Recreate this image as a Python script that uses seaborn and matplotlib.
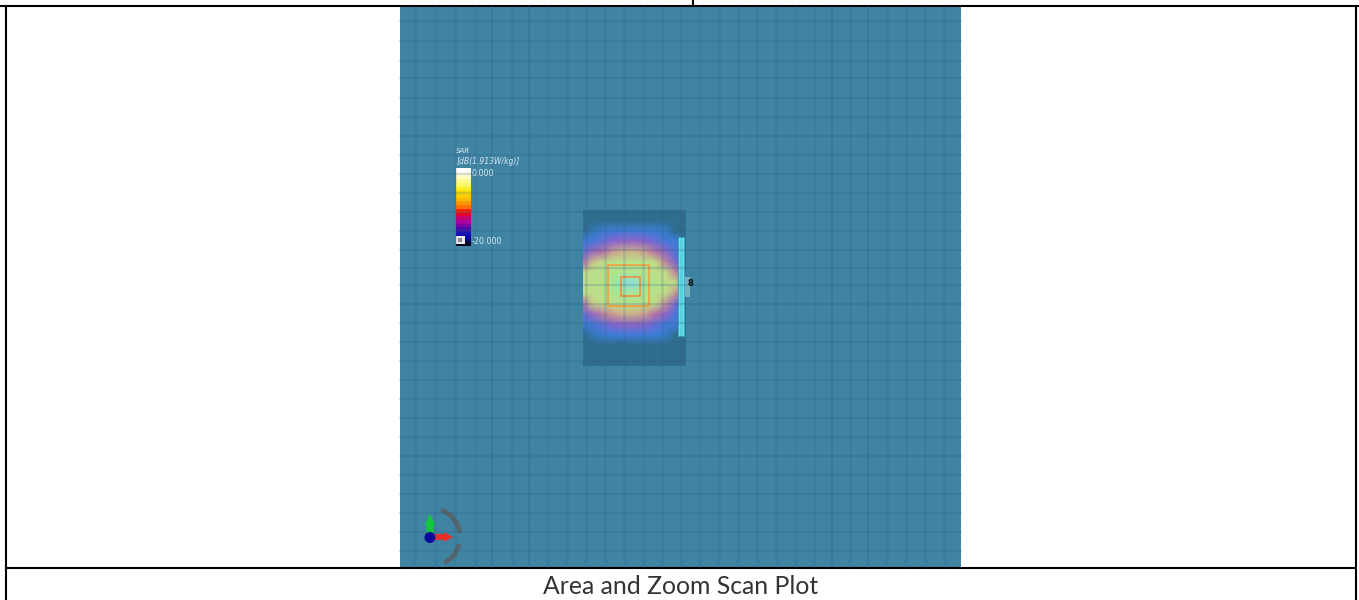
import matplotlib
matplotlib.use('Agg')
import matplotlib.pyplot as plt
from matplotlib.colors import LinearSegmentedColormap, ListedColormap
from matplotlib.patches import Arc, Circle, FancyArrow, Rectangle
import pandas as pd
import seaborn as sns

W, H = 1359, 600

caption = 'Area and Zoom Scan Plot'
bar_title = 'SAR'
bar_unit = '[dB(1.913W/kg)]'
bar_top_label = '0.000'
bar_bottom_label = '-20.000'

# measured SAR in dB, rows top to bottom, columns left to right
sar_x = [583, 593, 604, 614, 624, 635, 645, 655, 665, 676, 686]
sar_y = [210, 220, 231, 241, 252, 262, 272, 283, 293, 304, 314, 324, 335, 345, 356, 366]
sar_rows = [
    [-24, -24, -24, -24, -24, -24, -24, -24, -24, -24, -24],
    [-24, -24, -24, -24, -24, -24, -24, -24, -24, -24, -24],
    [-22, -19.5, -18, -17.5, -17, -17, -17.5, -18, -19, -21, -24],
    [-17.5, -16, -14.5, -13.5, -13, -13, -13.5, -14.5, -16, -17.5, -24],
    [-14.5, -12.5, -11, -9.5, -9, -9, -9.5, -11, -13, -15.5, -24],
    [-11.5, -8.5, -6.5, -5.5, -5, -5, -5.5, -7, -10.5, -14, -24],
    [-7.5, -5.5, -4.5, -4, -3.5, -3.5, -4, -5, -7, -10.5, -24],
    [-6, -5, -4, -2.5, -0.5, -0.5, -2.5, -4, -5.5, -6.5, -16],
    [-7, -5.5, -4.5, -3.5, -2.5, -2.5, -3.5, -5, -6.5, -10, -24],
    [-11, -8, -6, -5, -4.5, -4.5, -5, -6.5, -10, -14, -24],
    [-14.5, -12.5, -10.5, -9.5, -9, -9, -9.5, -11, -13, -15.5, -24],
    [-17.5, -16, -14.5, -13.5, -13, -13, -13.5, -14.5, -16, -17.5, -24],
    [-22, -19.5, -18, -17.5, -17, -17, -17.5, -18, -19, -21, -24],
    [-24, -24, -24, -23.5, -23, -23, -23.5, -24, -24, -24, -24],
    [-24, -24, -24, -24, -24, -24, -24, -24, -24, -24, -24],
    [-24, -24, -24, -24, -24, -24, -24, -24, -24, -24, -24],
]

# colour scale legend, one value per band from top to bottom
bar_levels = [0, -1, -2, -3, -4, -5, -6, -7, -8, -9, -10, -11, -12, -13, -14, -15, -16, -17, -18, -19, -20]

grid_x = [415, 435, 455, 475, 492, 512, 529, 548, 567, 586, 605, 624, 643, 662, 681,
          700, 719, 738, 757, 776, 795, 814, 832, 850, 868, 887, 906, 925, 944]
grid_y = [21, 41, 61, 78, 98, 117, 136, 155, 174, 193, 212, 231, 250, 268, 285,
          304, 323, 342, 361, 380, 399, 418, 437, 456, 475, 494, 513, 532, 551]
dark_x = [492, 529, 832, 868]

sns.set_theme(style='white')
plt.rcParams['font.family'] = ['Lato', 'Liberation Sans', 'DejaVu Sans']

sar_cmap = LinearSegmentedColormap.from_list('sar', [
    (0.00, '#2f6e8d'), (0.15, '#2f6e8d'), (0.22, '#3780d6'), (0.36, '#4a78dc'), (0.44, '#8a62cc'),
    (0.54, '#b86ea8'), (0.60, '#cf9c8c'), (0.68, '#c8dc84'), (0.86, '#b0e48e'), (0.94, '#98e8aa'), (1.00, '#88dff0')])
bar_cmap = ListedColormap(['#05051f', '#000a70', '#0a0ab0', '#1a10b8', '#4a08a8', '#8000a0',
                           '#a800a0', '#c80070', '#e80030', '#f82000', '#ff7000', '#ff9800',
                           '#ffb800', '#ffd000', '#ffe000', '#ffee20', '#fff660', '#fffa90',
                           '#ffffc0', '#ffffe8', '#ffffff'])


def px_axes(fig, left, top, right, bottom, zorder):
    # axes placed by picture pixels
    return fig.add_axes([left / W, 1 - bottom / H, (right - left) / W, (bottom - top) / H], zorder=zorder)


fig = plt.figure(figsize=(W / 100, H / 100), dpi=100, facecolor='white')

# page layer: table lines, scan background, caption
page = px_axes(fig, 0, 0, W, H, 0)
page.set_xlim(0, W)
page.set_ylim(H, 0)
page.axis('off')
page.add_patch(Rectangle((400, 6), 561, 562, color='#3f84a3', lw=0))
page.add_patch(Rectangle((583, 210), 103, 156, color='#2f6e8d', lw=0))
for xs, ys in [((0, W), (5.5, 5.5)), ((6, 6), (5, H)), ((1355.5, 1355.5), (5, H)),
               ((6, 1355.5), (568, 568)), ((693, 693), (0, 5))]:
    page.plot(xs, ys, color='black', lw=1.5, solid_capstyle='butt')
page.text(681, 587, caption, ha='center', va='center', fontsize=17.8, color='#333333')

# SAR field
field = px_axes(fig, sar_x[0], sar_y[0], sar_x[-1], sar_y[-1], 1)
sar_df = pd.DataFrame(sar_rows, index=sar_y, columns=sar_x)
sns.heatmap(sar_df, ax=field, cmap=sar_cmap, vmin=-24, vmax=0, cbar=False,
            shading='gouraud', xticklabels=False, yticklabels=False)
field.set_xlim(0, len(sar_x) - 1)
field.set_ylim(len(sar_y) - 1, 0)
field.set_xlabel('')
field.set_ylabel('')
field.axis('off')

# colour legend
legend_ax = px_axes(fig, 456, 168, 471, 246, 1)
sns.heatmap(pd.DataFrame({'SAR': bar_levels}), ax=legend_ax, cmap=bar_cmap, vmin=-20, vmax=0,
            cbar=False, xticklabels=False, yticklabels=False)
legend_ax.set_xlabel('')
legend_ax.set_ylabel('')
legend_ax.axis('off')

# overlay: grid, scan squares, phantom edge, triad, legend text
top = px_axes(fig, 0, 0, W, H, 2)
top.set_xlim(0, W)
top.set_ylim(H, 0)
top.axis('off')
top.patch.set_alpha(0)
for x in grid_x:
    strong = x in dark_x
    top.plot([x, x], [6, 567], color='#2f5f84', lw=1.2 if strong else 2.0, alpha=0.34 if strong else 0.16)
for y in grid_y:
    top.plot([400, 961], [y, y], color='#2f5f84', lw=1.6, alpha=0.22)

top.add_patch(Rectangle((678, 277), 12, 20, color='#8cc6cf', alpha=0.7, lw=0))
top.add_patch(Rectangle((678, 237), 6, 99, facecolor='#62e6ee', edgecolor='#3aa5c0', lw=0.6))
top.text(690, 284, '8', ha='center', va='center', fontsize=6, color='#111111', family='DejaVu Sans', weight='bold')
top.add_patch(Rectangle((608, 265), 41, 41, fill=False, edgecolor='#f0a040', lw=1.2))
top.add_patch(Rectangle((621, 277), 19, 19, fill=False, edgecolor='#ef8f40', lw=1.2))

top.add_patch(Rectangle((456, 236), 9, 8, color='#e8e8e8', lw=0))
top.add_patch(Rectangle((458, 238), 4, 4, color='#8a8a8a', lw=0))

label_color = '#d5e6ec'
top.text(456, 151, bar_title, fontsize=5, style='italic', color=label_color, va='center', family='DejaVu Sans')
top.text(457, 162, bar_unit, fontsize=5.5, style='italic', color=label_color, va='center', family='DejaVu Sans')
top.text(472, 174, bar_top_label, fontsize=5.8, color=label_color, va='center', family='DejaVu Sans')
top.text(472, 242, bar_bottom_label, fontsize=5.8, color=label_color, va='center', family='DejaVu Sans')

top.add_patch(Arc((431, 537), 58, 58, theta1=-70, theta2=-8, color='#56666c', lw=3.5))
top.add_patch(Arc((431, 537), 58, 58, theta1=14, theta2=62, color='#56666c', lw=3.5))
top.add_patch(FancyArrow(430, 537, 0, -23, width=7, head_width=11, head_length=11,
                         length_includes_head=True, color='#12c83a', lw=0))
top.add_patch(FancyArrow(430, 537, 23, 0, width=6, head_width=10, head_length=9,
                         length_includes_head=True, color='#e8302a', lw=0))
top.add_patch(Circle((430, 537.5), 5.5, color='#0a0a9a', lw=0))

fig.savefig('out.png', dpi=100)
